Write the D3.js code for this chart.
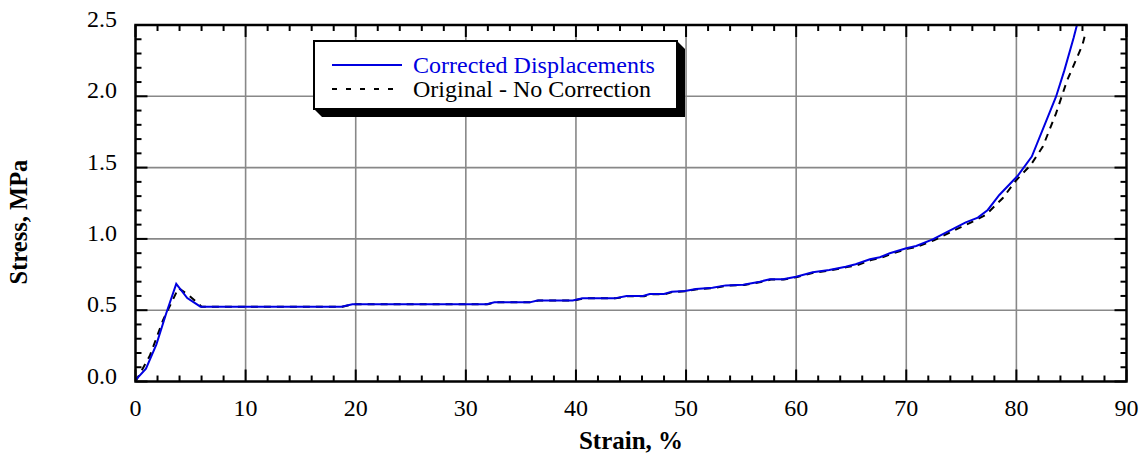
<!DOCTYPE html>
<head>
	<meta charset="utf-8">
	<script src="https://d3js.org/d3.v7.min.js"></script>
	<style>
		body { margin: 0; background: #fff; }
	</style>
</head>
<body>
	<div id="chart"></div>
	<script>

	var width = 1144,
	height = 461;

	// Corrected Displacements (blue solid)
	var correctedStrain = [0, 0.95, 1.9, 2.8, 3.7, 4.7, 5.9, 18.7, 19.7, 31.9, 32.6, 35.8, 36.5, 39.7, 40.6, 43.5, 44.6, 46.1, 46.7, 48.0, 48.7, 49.9, 50.9, 52.4, 53.6, 55.2, 56.7, 57.6, 58.8, 60.0, 61.5, 63.0, 64.5, 65.4, 66.7, 67.6, 68.5, 70.0, 70.9, 72.4, 73.9, 75.4, 76.5, 77.4, 78.45, 80.1, 81.4, 83.6, 84.35, 85.2, 85.5];
	var correctedStress = [0.01, 0.09, 0.26, 0.48, 0.685, 0.585, 0.525, 0.525, 0.542, 0.542, 0.555, 0.555, 0.568, 0.568, 0.583, 0.583, 0.60, 0.60, 0.614, 0.614, 0.63, 0.635, 0.649, 0.658, 0.674, 0.679, 0.70, 0.717, 0.717, 0.735, 0.766, 0.782, 0.805, 0.822, 0.857, 0.871, 0.899, 0.934, 0.950, 0.997, 1.057, 1.116, 1.149, 1.203, 1.308, 1.441, 1.577, 1.997, 2.18, 2.41, 2.5];

	// Original - No Correction (black dashed)
	var originalStrain = [0, 1.3, 2.5, 3.9, 4.8, 6.0, 18.8, 19.8, 32.0, 32.7, 35.9, 36.6, 39.8, 40.7, 43.6, 44.7, 46.2, 46.8, 48.1, 48.8, 50.0, 51.0, 52.5, 53.7, 55.3, 56.8, 57.7, 58.9, 60.1, 61.6, 63.1, 64.6, 65.5, 66.8, 67.7, 68.6, 70.1, 71.0, 72.5, 73.9, 75.7, 77.2, 78.75, 80.0, 81.3, 82.4, 83.6, 84.6, 86.0, 86.3];
	var originalStress = [0, 0.18, 0.43, 0.655, 0.607, 0.525, 0.525, 0.542, 0.542, 0.555, 0.555, 0.568, 0.568, 0.583, 0.583, 0.598, 0.598, 0.612, 0.612, 0.628, 0.633, 0.647, 0.656, 0.672, 0.677, 0.698, 0.715, 0.715, 0.733, 0.763, 0.779, 0.802, 0.815, 0.852, 0.866, 0.894, 0.93, 0.946, 0.99, 1.043, 1.109, 1.167, 1.285, 1.413, 1.518, 1.647, 1.88, 2.11, 2.36, 2.45];

	var xTicks = [0, 10, 20, 30, 40, 50, 60, 70, 80, 90];
	var yTicks = [0.0, 0.5, 1.0, 1.5, 2.0, 2.5];
	var legendLabels = ["Corrected Displacements", "Original - No Correction"];

	var margin = {left: 135.5, right: 1126.5, top: 25, bottom: 381.5};
	var serif = "'Liberation Serif', 'Times New Roman', Times, 'DejaVu Serif', serif";

	var svg = d3.select("#chart").append("svg")
	  .attr("width", width)
	  .attr("height", height)
	  .attr("font-family", serif)
	  .style("font-family", serif);

	var x = d3.scaleLinear().domain([0, 90]).range([margin.left, margin.right]);
	var y = d3.scaleLinear().domain([0, 2.5]).range([margin.bottom, margin.top]);

	// grid
	svg.append("g")
		.selectAll("line")
		.data(xTicks.slice(1, -1))
		.join("line")
		  .attr("x1", d => x(d)).attr("x2", d => x(d))
		  .attr("y1", margin.top).attr("y2", margin.bottom)
		  .attr("stroke", "#888").attr("stroke-width", 1.6);
	svg.append("g")
		.selectAll("line")
		.data(yTicks.slice(1, -1))
		.join("line")
		  .attr("y1", d => y(d)).attr("y2", d => y(d))
		  .attr("x1", margin.left).attr("x2", margin.right)
		  .attr("stroke", "#888").attr("stroke-width", 1.6);

	// inward ticks on all four sides
	var xMinor = d3.range(0, 90.1, 2).filter(v => v % 10 != 0);
	var yMinor = d3.range(0, 25.1, 1).filter(v => v % 5 != 0).map(v => v / 10);
	var ticks = svg.append("g").attr("stroke", "#000").attr("stroke-width", 2);

	function xTickLines(vals, len) {
		vals.forEach(function(v) {
			ticks.append("line").attr("x1", x(v)).attr("x2", x(v))
				.attr("y1", margin.bottom).attr("y2", margin.bottom - len);
			ticks.append("line").attr("x1", x(v)).attr("x2", x(v))
				.attr("y1", margin.top).attr("y2", margin.top + len);
		});
	}
	function yTickLines(vals, len) {
		vals.forEach(function(v) {
			ticks.append("line").attr("y1", y(v)).attr("y2", y(v))
				.attr("x1", margin.left).attr("x2", margin.left + len);
			ticks.append("line").attr("y1", y(v)).attr("y2", y(v))
				.attr("x1", margin.right).attr("x2", margin.right - len);
		});
	}
	xTickLines(xMinor, 6);
	xTickLines(xTicks, 12);
	yTickLines(yMinor, 6);
	yTickLines(yTicks, 12);

	// clip for curves
	svg.append("clipPath").attr("id", "clip")
		.append("rect")
		  .attr("x", margin.left).attr("y", margin.top)
		  .attr("width", margin.right - margin.left)
		  .attr("height", margin.bottom - margin.top);

	var line = d3.line()
		.x(d => x(d[0]))
		.y(d => y(d[1]));

	svg.append("path")
		.datum(d3.zip(originalStrain, originalStress))
		.attr("clip-path", "url(#clip)")
		.attr("fill", "none")
		.attr("stroke", "#000")
		.attr("stroke-width", 2)
		.attr("stroke-dasharray", "7,6")
		.attr("d", line);

	svg.append("path")
		.datum(d3.zip(correctedStrain, correctedStress))
		.attr("clip-path", "url(#clip)")
		.attr("fill", "none")
		.attr("stroke", "#0000e0")
		.attr("stroke-width", 2)
		.attr("d", line);

	// frame
	svg.append("rect")
		.attr("x", margin.left).attr("y", margin.top)
		.attr("width", margin.right - margin.left)
		.attr("height", margin.bottom - margin.top)
		.attr("fill", "none")
		.attr("stroke", "#000")
		.attr("stroke-width", 2.5);

	// tick labels
	svg.append("g")
		.selectAll("text")
		.data(xTicks)
		.join("text")
		  .attr("x", d => x(d))
		  .attr("y", 416)
		  .attr("text-anchor", "middle")
		  .style("font-size", "24px")
		  .text(d => d);

	svg.append("g")
		.selectAll("text")
		.data(yTicks)
		.join("text")
		  .attr("x", 117)
		  .attr("y", d => y(d) + 2)
		  .attr("text-anchor", "end")
		  .style("font-size", "24px")
		  .text(d => d3.format(".1f")(d));

	// axis titles
	svg.append("text")
		.attr("x", (margin.left + margin.right) / 2)
		.attr("y", 449)
		.attr("text-anchor", "middle")
		.style("font-size", "25px")
		.style("font-weight", "bold")
		.text("Strain, %");

	svg.append("text")
		.attr("transform", "translate(27,222) rotate(-90)")
		.attr("text-anchor", "middle")
		.style("font-size", "24.5px")
		.style("font-weight", "bold")
		.text("Stress, MPa");

	// legend with drop shadow
	var lg = {x: 314, y: 41, w: 363, h: 68, s: 8};
	svg.append("polygon")
		.attr("points", [
			[lg.x, lg.y + lg.h], [lg.x + lg.s, lg.y + lg.h + lg.s],
			[lg.x + lg.w + lg.s, lg.y + lg.h + lg.s], [lg.x + lg.w + lg.s, lg.y + lg.s],
			[lg.x + lg.w, lg.y]].map(p => p.join(",")).join(" "))
		.attr("fill", "#000");
	svg.append("rect")
		.attr("x", lg.x).attr("y", lg.y)
		.attr("width", lg.w).attr("height", lg.h)
		.attr("fill", "#fff")
		.attr("stroke", "#000")
		.attr("stroke-width", 2);

	svg.append("line")
		.attr("x1", 332).attr("x2", 402).attr("y1", 65).attr("y2", 65)
		.attr("stroke", "#0000e0").attr("stroke-width", 2);
	svg.append("line")
		.attr("x1", 332).attr("x2", 402).attr("y1", 89).attr("y2", 89)
		.attr("stroke", "#000").attr("stroke-width", 2)
		.attr("stroke-dasharray", "5,9");

	svg.append("text")
		.attr("x", 413).attr("y", 73)
		.style("font-size", "24px")
		.attr("fill", "#0000e0")
		.text(legendLabels[0]);
	svg.append("text")
		.attr("x", 413).attr("y", 97)
		.style("font-size", "24px")
		.attr("fill", "#000")
		.text(legendLabels[1]);
</script>
</body>
